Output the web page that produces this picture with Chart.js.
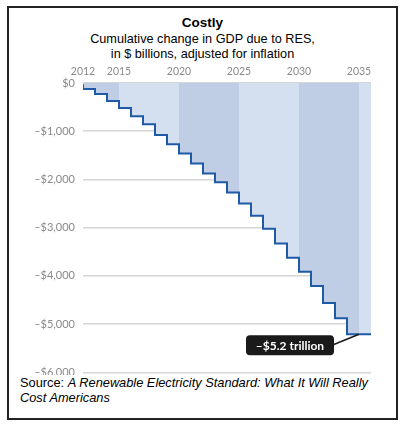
<!DOCTYPE html>
<html>
<head>
<meta charset="utf-8">
<script src="https://cdn.jsdelivr.net/npm/chart.js@4/dist/chart.umd.min.js"></script>
<style>
    body { margin: 0; background: #fff; }
    #wrap { position: relative; width: 408px; height: 430px; overflow: hidden; }
    #frame { position: absolute; left: 7px; top: 6px; width: 387px; height: 410px; border: 2px solid #222; }
    .head { position: absolute; left: 7px; width: 391px; text-align: center; font-family: "Liberation Sans", Arial, sans-serif; color: #000; }
    #title { top: 15px; font-size: 13.5px; font-weight: bold; }
    #sub { top: 32px; font-size: 12.7px; line-height: 15px; }
    #chart { position: absolute; left: 0; top: 60px; }
    #source { position: absolute; left: 20px; top: 375px; width: 364px; font-family: "Liberation Sans", Arial, sans-serif; font-size: 12.8px; line-height: 15px; color: #000; background: #fff; }
</style>
</head>
<body>
<div id="wrap">
    <div id="frame"></div>
    <div class="head" id="title">Costly</div>
    <div class="head" id="sub">Cumulative change in GDP due to RES,<br>in $ billions, adjusted for inflation</div>
    <canvas id="chart" width="408" height="327"></canvas>
    <div id="source">Source: <i>A Renewable Electricity Standard: What It Will Really Cost Americans</i></div>
</div>
<script>
// cumulative GDP change, $ billions, one value per year
const years = [2012, 2013, 2014, 2015, 2016, 2017, 2018, 2019, 2020, 2021, 2022, 2023,
    2024, 2025, 2026, 2027, 2028, 2029, 2030, 2031, 2032, 2033, 2034, 2035];
const gdpChange = [-25, -125, -230, -375, -520, -690, -855, -1080, -1270, -1460, -1670, -1875,
    -2060, -2270, -2500, -2750, -3020, -3330, -3625, -3915, -4210, -4560, -4875, -5210];

const yearTicks = [2012, 2015, 2020, 2025, 2030, 2035];
const bandEdges = [2015, 2020, 2025, 2030, 2035];
const totalLabel = '\u2013$5.2 trillion';

const darkBand = '#bfcee5';
const lightBand = '#d4e0f0';
const lastYear = years[years.length - 1] + 1;

const points = years.map((yr, i) => ({ x: yr, y: gdpChange[i] }));
points.push({ x: lastYear, y: gdpChange[gdpChange.length - 1] });

function bandFill(context) {
    const { chart } = context;
    const area = chart.chartArea;
    if (!area) return darkBand;
    const xs = chart.scales.x;
    const g = chart.ctx.createLinearGradient(area.left, 0, area.right, 0);
    const w = area.right - area.left;
    let color = darkBand;
    g.addColorStop(0, color);
    bandEdges.forEach(edge => {
        const pos = Math.min(1, Math.max(0, (xs.getPixelForValue(edge) - area.left) / w));
        g.addColorStop(pos, color);
        color = color === darkBand ? lightBand : darkBand;
        g.addColorStop(pos, color);
    });
    g.addColorStop(1, color);
    return g;
}

const calloutPlugin = {
    id: 'callout',
    afterDatasetsDraw(chart) {
        const { ctx, scales } = chart;
        const px = scales.x.getPixelForValue(years[years.length - 1]);
        const py = scales.y.getPixelForValue(gdpChange[gdpChange.length - 1]);
        const bw = 88, bh = 20;
        const bx = px - 25 - bw;
        const by = py + 1;
        ctx.save();
        ctx.strokeStyle = '#1a1a1a';
        ctx.lineWidth = 1.5;
        ctx.beginPath();
        ctx.moveTo(bx + bw - 2, by + bh / 2);
        ctx.lineTo(px, py);
        ctx.stroke();
        ctx.fillStyle = '#1a1a1a';
        ctx.beginPath();
        ctx.roundRect(bx, by, bw, bh, 4);
        ctx.fill();
        ctx.fillStyle = '#fff';
        ctx.font = 'bold 12px Lato';
        ctx.textAlign = 'center';
        ctx.textBaseline = 'middle';
        ctx.fillText(totalLabel, bx + bw / 2, by + bh / 2 + 1);
        ctx.restore();
    }
};

new Chart(document.getElementById('chart'), {
    type: 'line',
    data: {
        datasets: [{
            data: points,
            stepped: 'after',
            borderColor: '#1f5aa6',
            borderWidth: 2,
            pointRadius: 0,
            fill: 'end',
            backgroundColor: bandFill
        }]
    },
    options: {
        responsive: false,
        devicePixelRatio: 1,
        animation: false,
        layout: { padding: { left: 0, right: 37, top: 0, bottom: 5 } },
        plugins: {
            legend: { display: false },
            tooltip: { enabled: false }
        },
        scales: {
            x: {
                type: 'linear',
                position: 'top',
                min: years[0],
                max: lastYear,
                afterBuildTicks: (scale) => { scale.ticks = yearTicks.map(v => ({ value: v })); },
                afterFit: (scale) => { scale.height = 23; },
                grid: { display: false, drawTicks: false, tickLength: 0 },
                border: { display: false },
                ticks: {
                    padding: 5,
                    color: '#8a8a8a',
                    font: { family: 'Lato', size: 10.5 },
                    maxRotation: 0,
                    callback: (v) => String(v)
                }
            },
            y: {
                min: -6000,
                max: 0,
                afterFit: (scale) => { scale.width = 83; },
                grid: { color: '#d6d6d6', lineWidth: 1.5, drawTicks: false },
                border: { display: false },
                ticks: {
                    stepSize: 1000,
                    padding: 8,
                    color: '#8a8a8a',
                    font: { family: 'Lato', size: 11 },
                    callback: (v) => v === 0 ? '$0' : '\u2013$' + Math.abs(v).toLocaleString('en-US')
                }
            }
        }
    },
    plugins: [calloutPlugin]
});
</script>
</body>
</html>
